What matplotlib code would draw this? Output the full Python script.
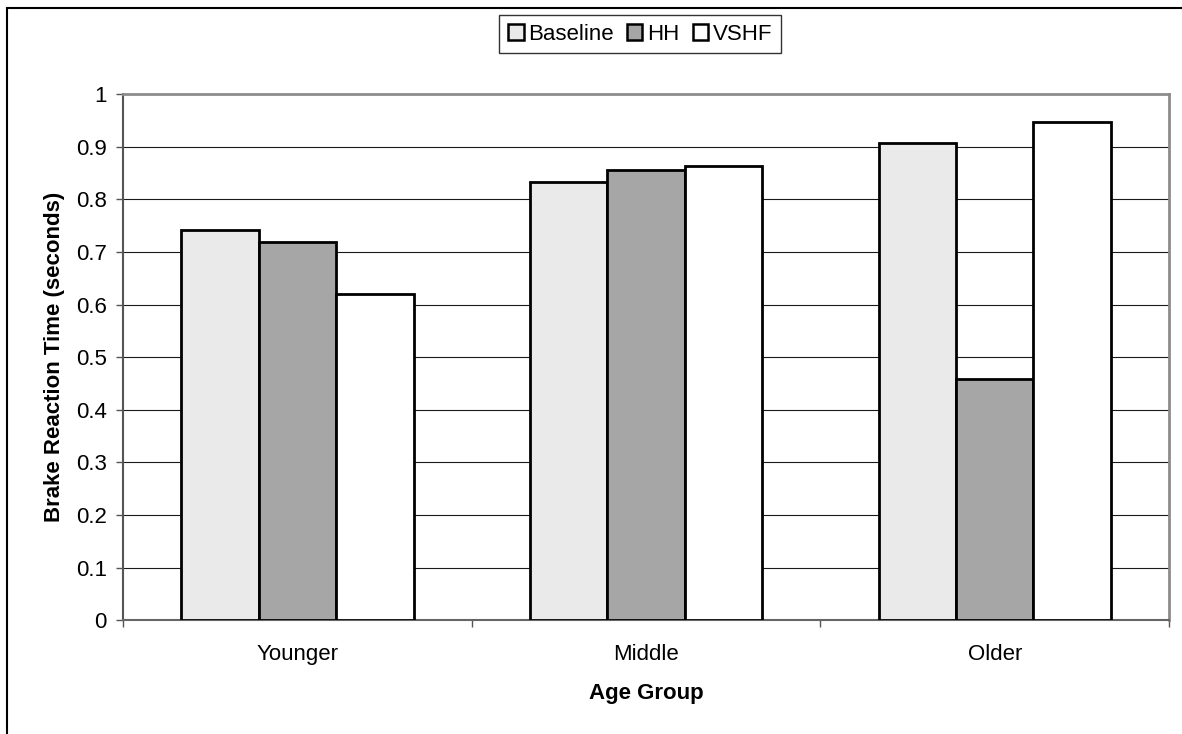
import matplotlib
matplotlib.use("Agg")
import matplotlib.pyplot as plt
from matplotlib.patches import Rectangle
from matplotlib.ticker import FixedLocator
import numpy as np

# Brake reaction time by age group and condition
groups = ["Younger", "Middle", "Older"]
series = ["Baseline", "HH", "VSHF"]
baseline = [0.741, 0.832, 0.906]
hh = [0.718, 0.856, 0.458]
vshf = [0.620, 0.864, 0.946]
colors = ["#EAEAEA", "#A6A6A6", "#FFFFFF"]

plt.rcParams['font.family'] = ['Liberation Sans', 'DejaVu Sans']
FS = 16

fig = plt.figure(figsize=(11.82, 7.34), dpi=100)
W, H = 1182, 734
ax = fig.add_axes([123.3 / W, (H - 620.3) / H, (1169 - 123.3) / W, (620.3 - 94) / H])

x = np.arange(len(groups))
width = 2 / 9
for i, (vals, col, name) in enumerate(zip([baseline, hh, vshf], colors, series)):
    ax.bar(x + (i - 1) * width, vals, width, color=col, edgecolor="black",
           linewidth=2.0, label=name, zorder=3)

ax.set_xlim(-0.5, 2.5)
ax.set_ylim(0, 1)
ax.set_yticks(np.arange(0, 1.01, 0.1))
ax.set_yticklabels(["0", "0.1", "0.2", "0.3", "0.4", "0.5", "0.6", "0.7", "0.8", "0.9", "1"])
ax.yaxis.grid(True, color="#1a1a1a", linewidth=0.8, zorder=1)
ax.set_axisbelow(True)

ax.set_xticks(x)
ax.set_xticklabels(groups)
ax.xaxis.set_minor_locator(FixedLocator([-0.5, 0.5, 1.5, 2.5]))
ax.tick_params(axis="x", which="major", length=0, pad=17, labelsize=FS)
ax.tick_params(axis="x", which="minor", length=5, width=1, color="#555555")
ax.tick_params(axis="y", length=5, width=1, color="#555555", pad=7, labelsize=FS)

for side in ["top", "right"]:
    ax.spines[side].set_color("#8C8C8C")
    ax.spines[side].set_linewidth(2)
ax.spines["left"].set_color("#555555")
ax.spines["left"].set_linewidth(1.5)
ax.spines["bottom"].set_color("#666666")
ax.spines["bottom"].set_linewidth(1.5)

ax.set_xlabel("Age Group", fontsize=FS, fontweight="bold", labelpad=13)
ax.set_ylabel("Brake Reaction Time (seconds)", fontsize=FS, fontweight="bold", labelpad=8)

leg = fig.legend(loc="center", bbox_to_anchor=(640 / W, (H - 34) / H), ncol=3,
                 frameon=True, fancybox=False, fontsize=FS, handlelength=0.7,
                 handleheight=0.7, handletextpad=0.2, columnspacing=0.6,
                 borderpad=0.4, borderaxespad=0)
leg.get_frame().set_edgecolor("black")
leg.get_frame().set_linewidth(1)
for h in leg.legend_handles:
    h.set_linewidth(1.8)

# outer chart frame
fig.add_artist(Rectangle((7 / W, -0.1), 1.2, (H - 8) / H + 0.1, transform=fig.transFigure,
                         fill=False, edgecolor="black", linewidth=1.5))

fig.savefig("out.png", dpi=100)
